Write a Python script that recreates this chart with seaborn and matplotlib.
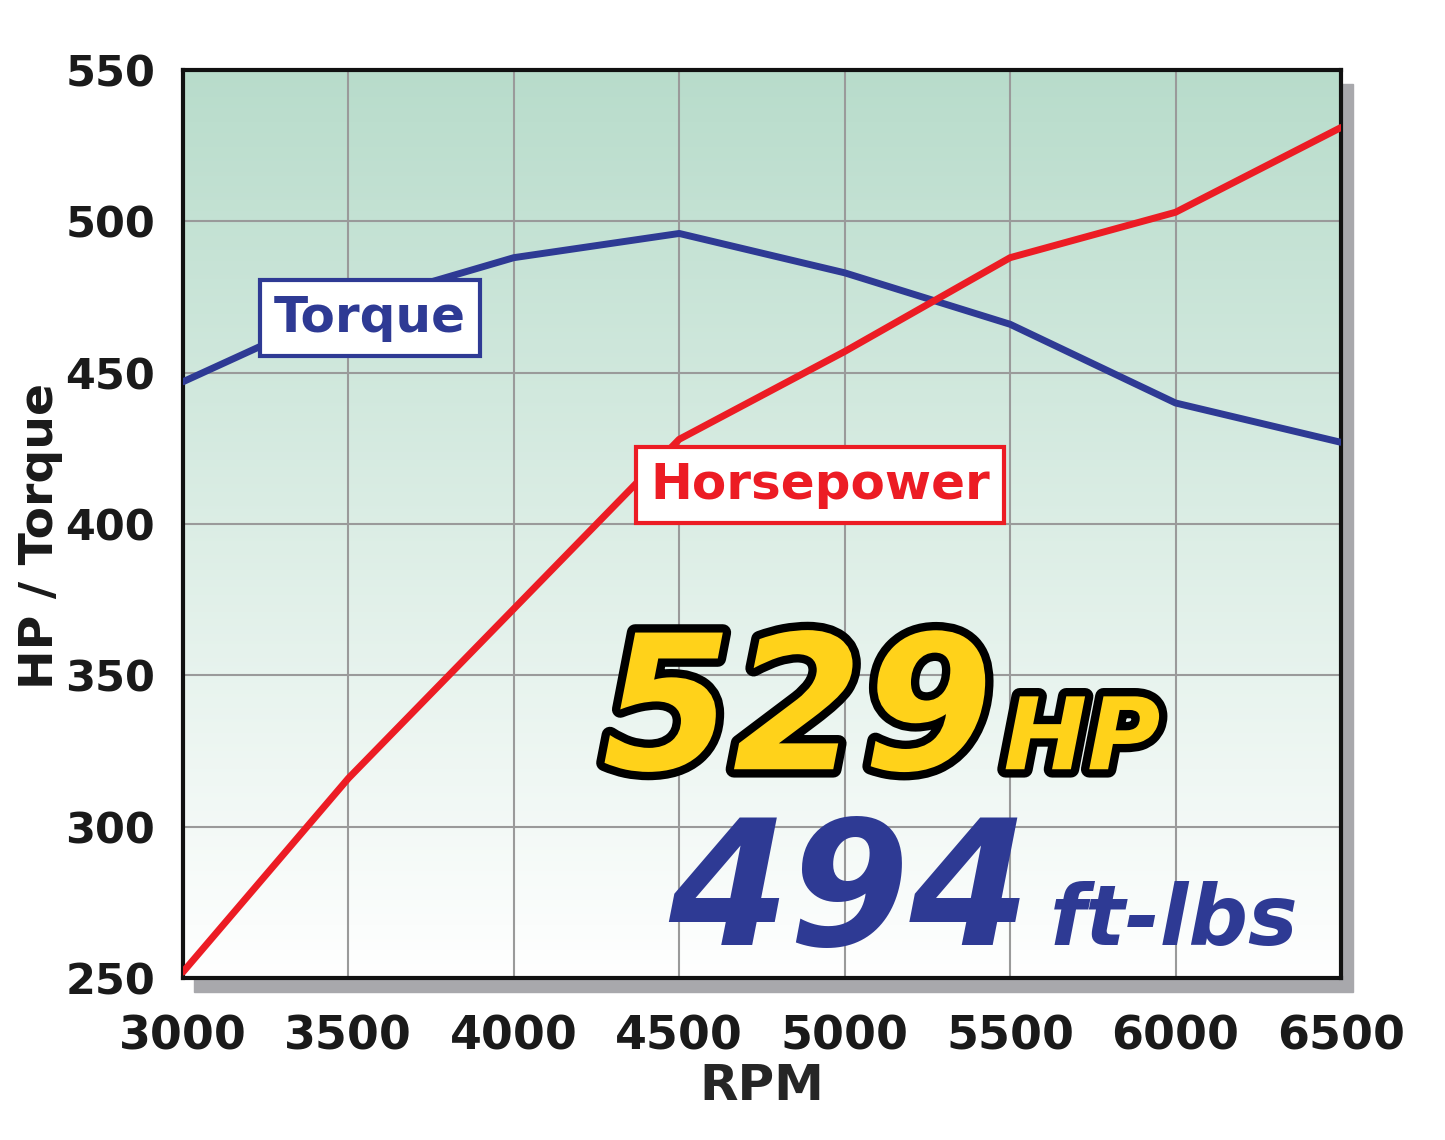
import numpy as np
import matplotlib.pyplot as plt
import matplotlib.patheffects as pe
from matplotlib.colors import LinearSegmentedColormap
import seaborn as sns

rpm = [3000, 3500, 4000, 4500, 5000, 5500, 6000, 6500]
torque = [447, 472, 488, 496, 483, 466, 440, 427]
hp = [252, 316, 372, 428, 457, 488, 503, 531]

sns.set_style("white")
plt.rcParams['font.family'] = ['DejaVu Sans']

fig = plt.figure(figsize=(14.45, 11.4), dpi=100)
ax = fig.add_axes([0.1266, 0.142, 0.8014, 0.7966])

# drop shadow
shadow = plt.Rectangle((0.1266 + 0.008, 0.142 - 0.012), 0.8014, 0.7966,
                       transform=fig.transFigure, color='#a8a8ac', zorder=-1)
fig.patches.append(shadow)

# gradient background
grad = np.linspace(0, 1, 256).reshape(-1, 1)
cm = LinearSegmentedColormap.from_list('bg', ['#ffffff', '#b8dccb'])
ax.imshow(grad, extent=[3000, 6500, 250, 550], origin='lower', aspect='auto',
          cmap=cm, zorder=0)

sns.lineplot(x=rpm, y=torque, ax=ax, color='#2e3a94', lw=5, zorder=3)
sns.lineplot(x=rpm, y=hp, ax=ax, color='#ec1c24', lw=5, zorder=3)

ax.set_xlim(3000, 6500)
ax.set_ylim(250, 550)
ax.set_xticks(rpm)
ax.set_yticks(range(250, 551, 50))
ax.grid(True, color='#9a9a9a', lw=1.5, zorder=1)
for s in ax.spines.values():
    s.set_linewidth(3)
    s.set_color('#111111')
ax.tick_params(axis='y', length=0, labelsize=31, pad=20)
ax.tick_params(axis='x', length=0, labelsize=33, pad=26)
for lab in ax.get_xticklabels() + ax.get_yticklabels():
    lab.set_fontweight('bold')
    lab.set_color('#1a1a1a')
ax.set_xlabel('RPM', fontsize=36, fontweight='bold', labelpad=2)
fig.text(0.028, 0.53, 'HP / Torque', fontsize=34, fontweight='bold',
         rotation=90, ha='center', va='center', color='#1a1a1a')

ax.text(3565, 468, 'Torque', fontsize=36, fontweight='bold', color='#2e3a94',
        ha='center', va='center', zorder=5,
        bbox=dict(facecolor='white', edgecolor='#2e3a94', lw=3, pad=10))
ax.text(4925, 413, 'Horsepower', fontsize=36, fontweight='bold', color='#ec1c24',
        ha='center', va='center', zorder=5,
        bbox=dict(facecolor='white', edgecolor='#ec1c24', lw=3, pad=10))

stroke = [pe.withStroke(linewidth=12, foreground='black')]
ax.text(5450, 319, '529', fontsize=135, fontweight='bold', style='italic',
        color='#ffd21a', ha='right', va='baseline', zorder=6, path_effects=stroke)
ax.text(5480, 319, 'HP', fontsize=72, fontweight='bold', style='italic',
        color='#ffd21a', ha='left', va='baseline', zorder=6, path_effects=stroke)
ax.text(5560, 261, '494', fontsize=125, fontweight='bold', style='italic',
        color='#2e3a94', ha='right', va='baseline', zorder=6)
ax.text(5620, 261, 'ft-lbs', fontsize=60, fontweight='bold', style='italic',
        color='#2e3a94', ha='left', va='baseline', zorder=6)

fig.savefig('out.png', dpi=100, facecolor='white')
